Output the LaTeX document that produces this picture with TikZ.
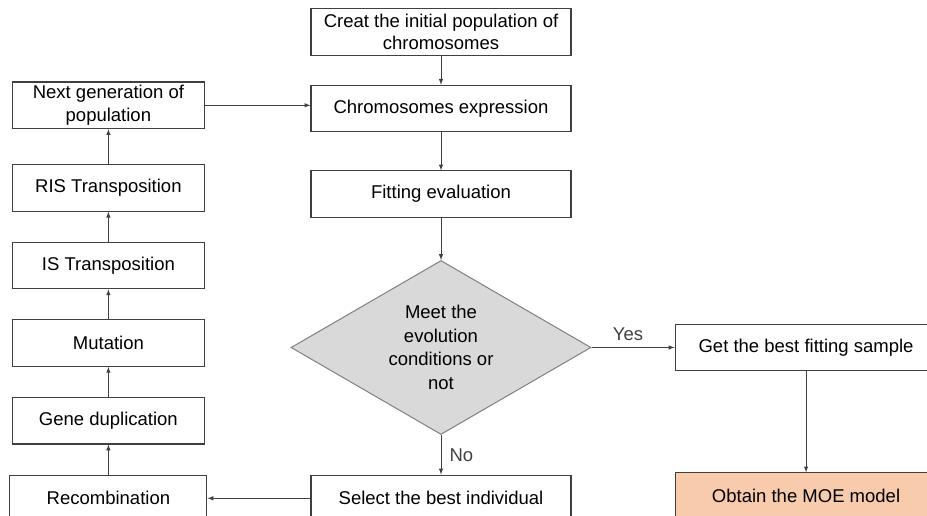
\documentclass[tikz,border=0pt]{standalone}
\usepackage{fontspec}
\setmainfont{Liberation Sans}
\usetikzlibrary{arrows, shapes, positioning}
\definecolor{edgegray}{HTML}{404040}
\definecolor{diagray}{HTML}{D9D9D9}
\definecolor{peach}{HTML}{F8CBAD}
\begin{document}
\begin{tikzpicture}[x=1pt, y=-1pt,
				block/.style={rectangle, draw=edgegray, line width=1.1pt, align=center, minimum width=260pt, minimum
						height=46.5pt, inner sep=2pt, font=\fontsize{18.5}{22.5}\selectfont},
				sideblock/.style={block, minimum width=192pt},
				decision/.style={diamond, draw=gray, line width=1pt, fill=diagray, aspect=1.72, align=center,
						minimum width=300pt, minimum height=174pt, inner sep=0pt, font=\fontsize{18.5}{23.5}\selectfont},
				line/.style={draw, edgegray, line width=1pt, -latex}
			]
			\clip (0,0) rectangle (927,516);
			\useasboundingbox (0,0) rectangle (927,516);
			\node [block] (creat) at (441,32) {Creat the initial population of\\ chromosomes};
			\node [block, below=29pt of creat] (express) {Chromosomes expression};
			\node [block, below=38pt of express] (fitting) {Fitting evaluation};
			\node [decision, below=42pt of fitting] (meet) {Meet the\\ evolution\\ conditions or\\ not};
			\node [block, below=39.5pt of meet] (select) {Select the best individual};
			\node [block, right=83pt of meet, minimum width=262pt] (getbest) {Get the best fitting sample};
			\node [block, below=101pt of getbest, minimum width=262pt, fill=peach] (obtain) {Obtain the MOE model};

			\node [sideblock, left=103pt of select, minimum width=197pt] (recomb) {Recombination};
			\node [sideblock, above=30pt of recomb] (genedup) {Gene duplication};
			\node [sideblock, above=30pt of genedup] (mutation) {Mutation};
			\node [sideblock, above=30pt of mutation] (istrans) {IS Transposition};
			\node [sideblock, above=30pt of istrans] (ristrans) {RIS Transposition};
			\node [sideblock, above=35pt of ristrans] (nextgen) {Next generation of\\ population};

			\path [line] (creat) -- (express);
			\path [line] (express) -- (fitting);
			\path [line] (fitting) -- (meet);
			\path [line] (meet) -- node [right, inner sep=8pt, font=\fontsize{18.5}{22}\selectfont] {No} (select);
			\path [line] (meet) -- node [above, xshift=-5pt, inner sep=6pt, font=\fontsize{18.5}{22}\selectfont] {Yes} (getbest);
			\path [line] (getbest) -- (obtain);
			\path [line] (select) -- (recomb);
			\path [line] (recomb) -- (genedup);
			\path [line] (genedup) -- (mutation);
			\path [line] (mutation) -- (istrans);
			\path [line] (istrans) -- (ristrans);
			\path [line] (ristrans) -- (nextgen);
			\path [line] (nextgen.east) -- (nextgen.east -| express.west);
		\end{tikzpicture}
\end{document}
